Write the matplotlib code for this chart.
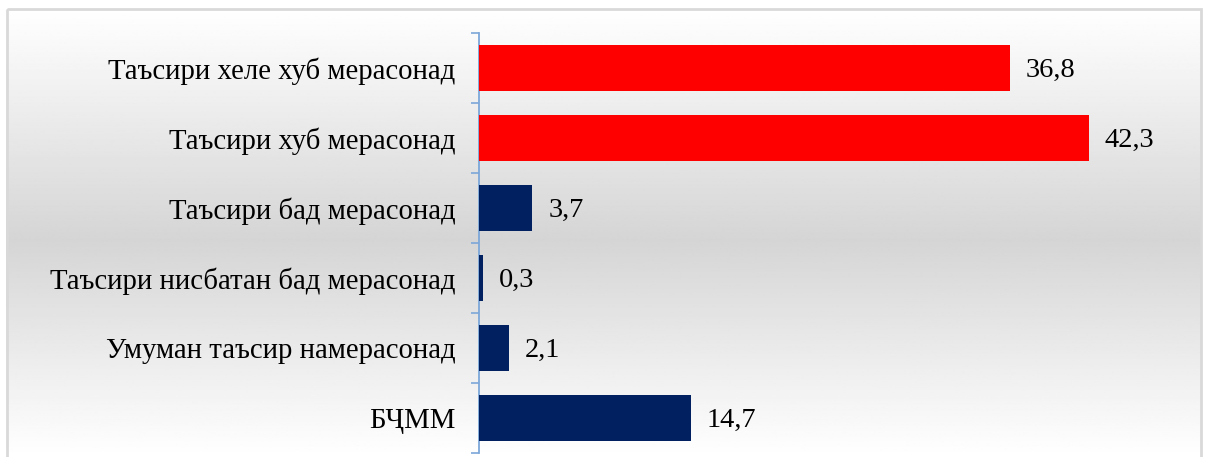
import matplotlib
matplotlib.use("Agg")
import matplotlib.pyplot as plt
import numpy as np
from matplotlib.patches import Rectangle

categories = ["Таъсири хеле хуб мерасонад", "Таъсири хуб мерасонад", "Таъсири бад мерасонад",
              "Таъсири нисбатан бад мерасонад", "Умуман таъсир намерасонад", "БҶММ"]
values = [36.8, 42.3, 3.7, 0.3, 2.1, 14.7]
value_labels = ["36,8", "42,3", "3,7", "0,3", "2,1", "14,7"]
colors = ["#FF0000", "#FF0000", "#002060", "#002060", "#002060", "#002060"]

plt.rcParams['font.family'] = ['Liberation Serif', 'DejaVu Serif']

W, H = 1209, 457
fig = plt.figure(figsize=(W / 100, H / 100), dpi=100)

# background gradient with frame
bg = fig.add_axes([0, 0, 1, 1])
bg.set_xlim(0, W)
bg.set_ylim(H, 0)
bg.axis('off')
top, bot = 8, H
mid = 240
yy = np.linspace(top, bot, 300)
light = 1.0
dark = 0.835
shade = np.where(yy < mid, light - (light - dark) * (yy - top) / (mid - top),
                 dark + (light - dark) * (yy - mid) / (bot - mid))
img = np.repeat(shade[:, None], 2, axis=1)
bg.imshow(img, cmap='gray', vmin=0, vmax=1, extent=[6, 1201, bot, top], aspect='auto', interpolation='bilinear')
bg.add_patch(Rectangle((6.5, 8.5), 1194, 460, fill=False, edgecolor='#d9d9d9', linewidth=2))

ax = fig.add_axes([479 / W, 1 - 453 / H, (45 * 610 / 42.3) / W, 420 / H])
ax.patch.set_alpha(0)
y = np.arange(len(categories))
ax.barh(y, values, height=0.66, color=colors, zorder=3)
for yi, v, lab in zip(y, values, value_labels):
    ax.text(v + 1.1, yi + 0.04, lab, va='center', ha='left', fontsize=20.5, color='#000000')

ax.set_xlim(0, 45)
ax.set_ylim(len(categories) - 0.5, -0.5)
ax.set_yticks(y)
ax.set_yticklabels(categories, fontsize=20.7)
ax.set_yticks(np.arange(-0.5, len(categories)), minor=True)
ax.tick_params(axis='y', which='major', length=0, pad=17)
ax.tick_params(axis='y', which='minor', length=6, width=1.2, color='#7da7d9', direction='out')
ax.set_xticks([])
for s in ['top', 'right', 'bottom']:
    ax.spines[s].set_visible(False)
ax.spines['left'].set_color('#7da7d9')
ax.spines['left'].set_linewidth(1.3)
ax.spines['left'].set_bounds(-0.5, 5.5)

fig.savefig("out.png", dpi=100)
